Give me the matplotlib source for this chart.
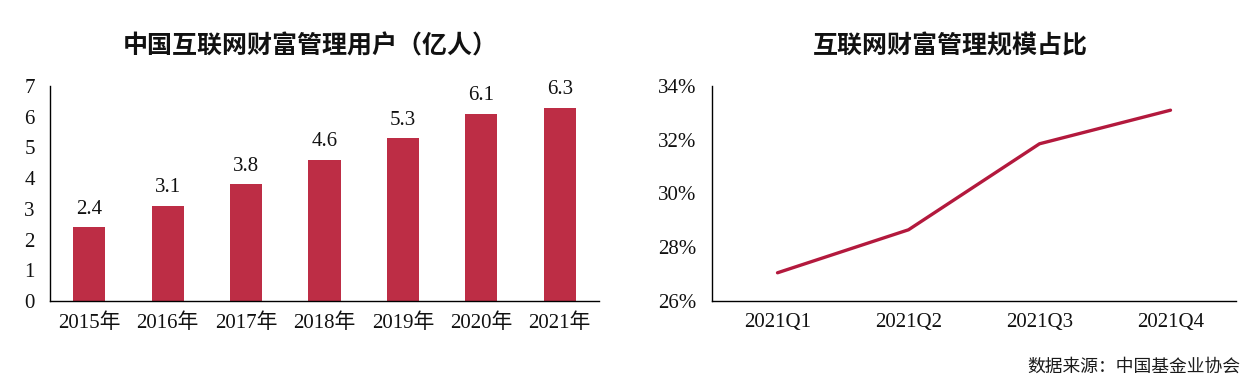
import matplotlib
matplotlib.use("Agg")
import matplotlib.pyplot as plt
from matplotlib.ticker import FuncFormatter

# ---- data ----
years = ["2015年", "2016年", "2017年", "2018年", "2019年", "2020年", "2021年"]
users = [2.4, 3.1, 3.8, 4.6, 5.3, 6.1, 6.3]
quarters = ["2021Q1", "2021Q2", "2021Q3", "2021Q4"]
share_pct = [27.05, 28.65, 31.85, 33.1]

title_left = "中国互联网财富管理用户（亿人）"
title_right = "互联网财富管理规模占比"
source = "数据来源：中国基金业协会"

BAR_COLOR = "#BD2D45"
LINE_COLOR = "#B3193D"
NUM_FONT = ["Liberation Serif", "Noto Sans CJK SC"]
CJK_FONT = ["Noto Sans CJK SC", "DejaVu Sans"]

plt.rcParams["font.family"] = NUM_FONT

fig = plt.figure(figsize=(12.55, 3.83), dpi=100)
W, H = 1255, 383
ax1 = fig.add_axes([50 / W, 1 - 301 / H, (599 - 50) / W, (301 - 86) / H])
ax2 = fig.add_axes([712 / W, 1 - 301 / H, (1236 - 712) / W, (301 - 86) / H])

# ---- left: bars ----
x = range(len(years))
ax1.bar(x, users, width=0.41, color=BAR_COLOR)
for xi, v in zip(x, users):
    ax1.annotate(f"{v:.1f}", (xi, v), xytext=(0, 6), textcoords="offset points",
                 ha="center", va="bottom", fontsize=15, family=NUM_FONT, color="#111111")
ax1.set_xlim(-0.5, len(years) - 0.5)
ax1.set_ylim(0, 7)
ax1.set_yticks(range(0, 8))
ax1.set_xticks(list(x))
ax1.set_xticklabels(years)

# ---- right: line ----
xq = range(len(quarters))
ax2.plot(list(xq), share_pct, color=LINE_COLOR, lw=2.4, solid_capstyle="round")
ax2.set_xlim(-0.5, len(quarters) - 0.5)
ax2.set_ylim(26, 34)
ax2.set_yticks([26, 28, 30, 32, 34])
ax2.yaxis.set_major_formatter(FuncFormatter(lambda v, p: f"{v:.0f}%"))
ax2.set_xticks(list(xq))
ax2.set_xticklabels(quarters)

for ax in (ax1, ax2):
    for s in ("top", "right"):
        ax.spines[s].set_visible(False)
    for s in ("left", "bottom"):
        ax.spines[s].set_color("black")
        ax.spines[s].set_linewidth(1.0)
    ax.tick_params(axis="both", length=0, labelsize=15, colors="#111111")
    ax.tick_params(axis="y", pad=11)
    ax.tick_params(axis="x", pad=9)
    for lab in ax.get_xticklabels() + ax.get_yticklabels():
        lab.set_family(NUM_FONT)

# ---- titles & source ----
fig.text(310 / W, 1 - 46 / H, title_left, ha="center", va="center",
         fontsize=18, fontweight="bold", family=CJK_FONT, color="#111111")
fig.text(950 / W, 1 - 46 / H, title_right, ha="center", va="center",
         fontsize=18, fontweight="bold", family=CJK_FONT, color="#111111")
fig.text(1240 / W, 1 - 367 / H, source, ha="right", va="center",
         fontsize=12.8, family=CJK_FONT, color="#1a1a1a")

fig.savefig("out.png", dpi=100)
